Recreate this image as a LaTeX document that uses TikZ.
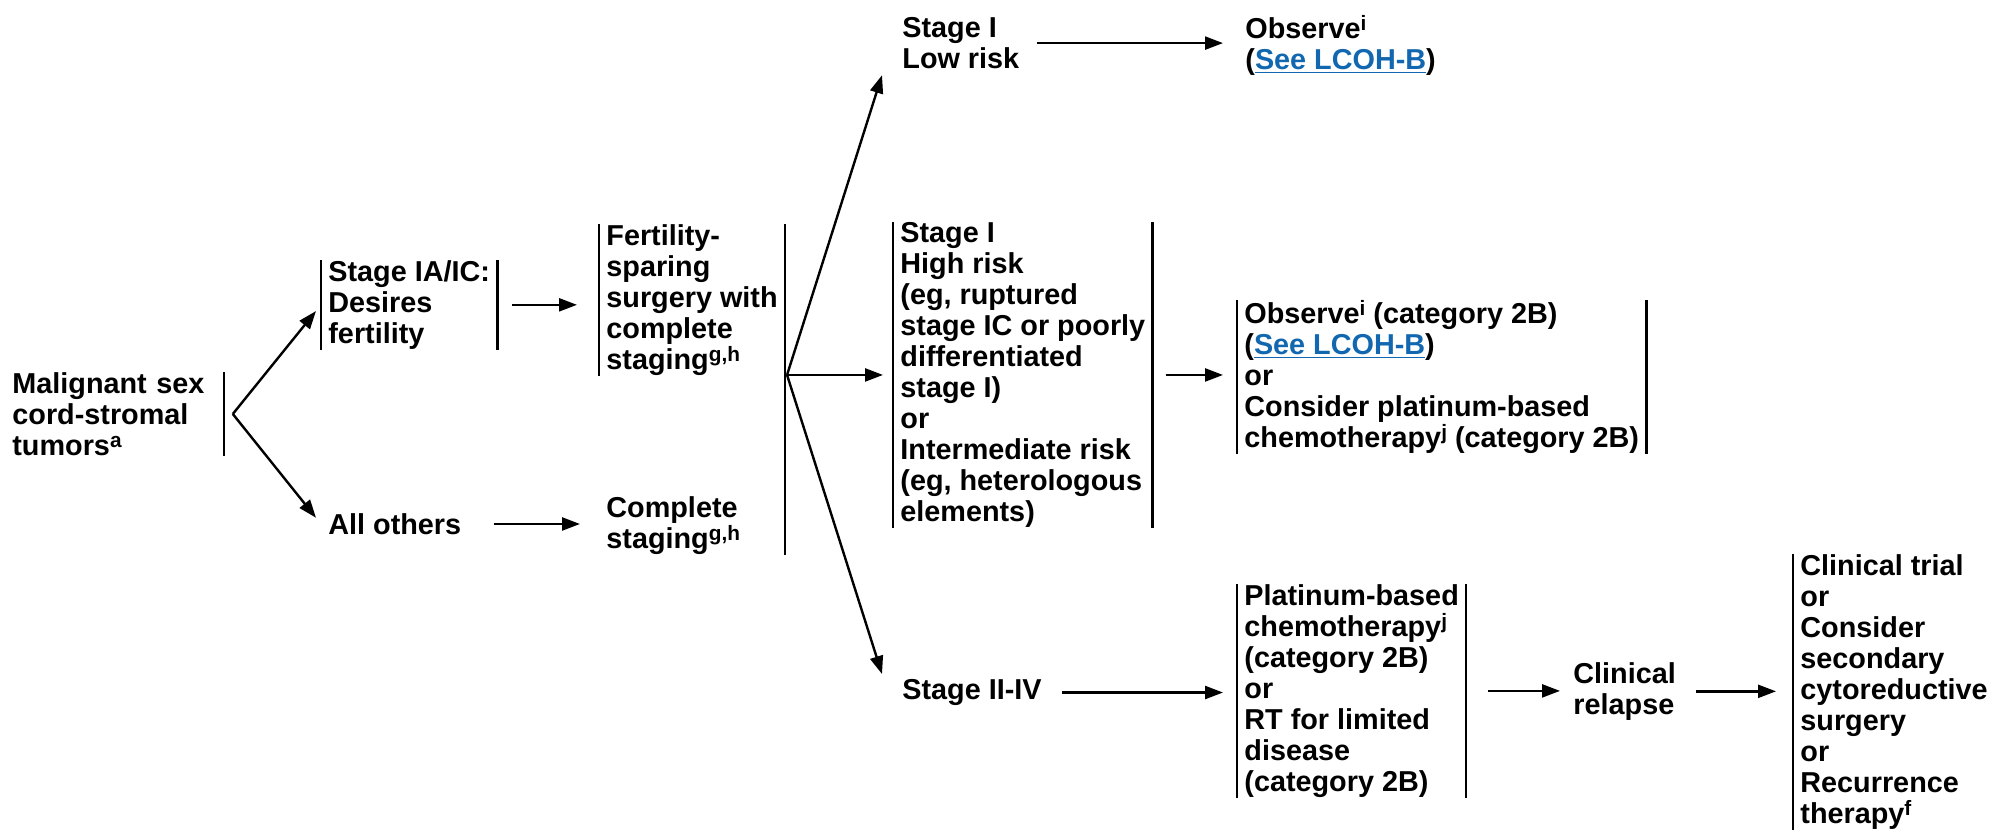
\documentclass[tikz,border=0pt]{standalone}
\usepackage{fontspec}
\setmainfont{Liberation Sans}
\usetikzlibrary{arrows.meta}
\definecolor{linkblue}{RGB}{18,104,176}
\newcommand{\lnk}[1]{{\color{linkblue}\underline{#1}}}
\newcommand{\fn}[1]{\raisebox{0.28em}{\fontsize{10.4pt}{10pt}\selectfont #1}}
\tikzset{
  txt/.style={anchor=north west, align=left, inner xsep=3.5pt, inner ysep=0pt,
    font=\fontsize{14.4pt}{15.5pt}\selectfont\bfseries},
  bar/.style={line width=1.2pt},
  arr/.style={line width=1.2pt, -{Triangle[length=9pt,width=6.5pt]}},
}
\begin{document}
\begin{tikzpicture}[x=0.5pt, y=-0.5pt]
      \useasboundingbox (0,0) rectangle (1997,832);
      \node[txt, text width=102pt] (mal) at (5,372) {Malignant sex\\cord-stromal\\tumors\fn{a}};
      \node[txt] (ia) at (321,260) {Stage IA/IC:\\Desires\\fertility};
      \node[txt] (oth) at (321,513) {All others};
      \node[txt] (fert) at (599,224) {Fertility-\\sparing\\surgery with\\complete\\staging\fn{g,h}};
      \node[txt] (comp) at (599,496) {Complete\\staging\fn{g,h}};
      \node[txt] (low) at (895,17) {Stage I\\Low risk};
      \node[txt] (high) at (893,222) {Stage I\\High risk\\(eg, ruptured\\stage IC or poorly\\differentiated\\stage I)\\or\\Intermediate risk\\(eg, heterologous\\elements)};
      \node[txt] (stg) at (895,679) {Stage II-IV};
      \node[txt] (obs) at (1238,15) {Observe\fn{i}\\(\lnk{See LCOH-B})};
      \node[txt] (obscat) at (1237,300) {Observe\fn{i} (category 2B)\\(\lnk{See LCOH-B})\\or\\Consider platinum-based\\chemotherapy\fn{j} (category 2B)};
      \node[txt] (plat) at (1237,584) {Platinum-based\\chemotherapy\fn{j}\\(category 2B)\\or\\RT for limited\\disease\\(category 2B)};
      \node[txt] (rel) at (1566,662) {Clinical\\relapse};
      \node[txt] (rec) at (1793,554) {Clinical trial\\or\\Consider\\secondary\\cytoreductive\\surgery\\or\\Recurrence\\therapy\fn{f}};
      \coordinate (mfork) at ([xshift=4.5pt]mal.east);
      \coordinate (sfork) at ([xshift=1pt]fert.east |- high.west);
      \begin{scope}[bar]
        \draw (mal.north east) -- (mal.south east);
        \draw (ia.north west) -- (ia.south west);
        \draw (ia.north east) -- (ia.south east);
        \draw (fert.north west) -- (fert.south west);
        \draw (fert.north east) -- (fert.east |- comp.south);
        \draw (high.north west) -- (high.south west);
        \draw (high.north east) -- (high.south east);
        \draw (obscat.north west) -- (obscat.south west);
        \draw (obscat.north east) -- (obscat.south east);
        \draw (plat.north west) -- (plat.south west);
        \draw (plat.north east) -- (plat.south east);
        \draw (rec.north west) -- (rec.south west);
      \end{scope}
      \begin{scope}[arr]
        \draw[shorten >=4pt] (mfork) -- (ia.west);
        \draw[shorten >=4pt] (mfork) -- (oth.west);
        \draw[shorten <=7.5pt, shorten >=11pt] (ia.east) -- (ia.east -| fert.west);
        \draw[shorten <=12.5pt, shorten >=9.5pt] (oth.east) -- (oth.east -| comp.west);
        \draw (sfork) -- ([xshift=-6.5pt,yshift=-3pt]low.south west);
        \draw[shorten >=5pt] (sfork) -- (high.west);
        \draw (sfork) -- ([xshift=-6.5pt,yshift=2.5pt]stg.north west);
        \draw[shorten <=5pt, shorten >=7.5pt] (low.east) -- (low.east -| obs.west);
        \draw[shorten <=6.5pt, shorten >=7pt] (high.east) -- (high.east -| obscat.west);
        \draw[shorten <=6.5pt, shorten >=7pt] (stg.east) -- (stg.east -| plat.west);
        \draw[shorten <=11pt, shorten >=3pt] (plat.east) -- (plat.east -| rel.west);
        \draw[shorten <=6.5pt, shorten >=8.5pt] (rel.east) -- (rel.east -| rec.west);
      \end{scope}
\end{tikzpicture}
\end{document}
